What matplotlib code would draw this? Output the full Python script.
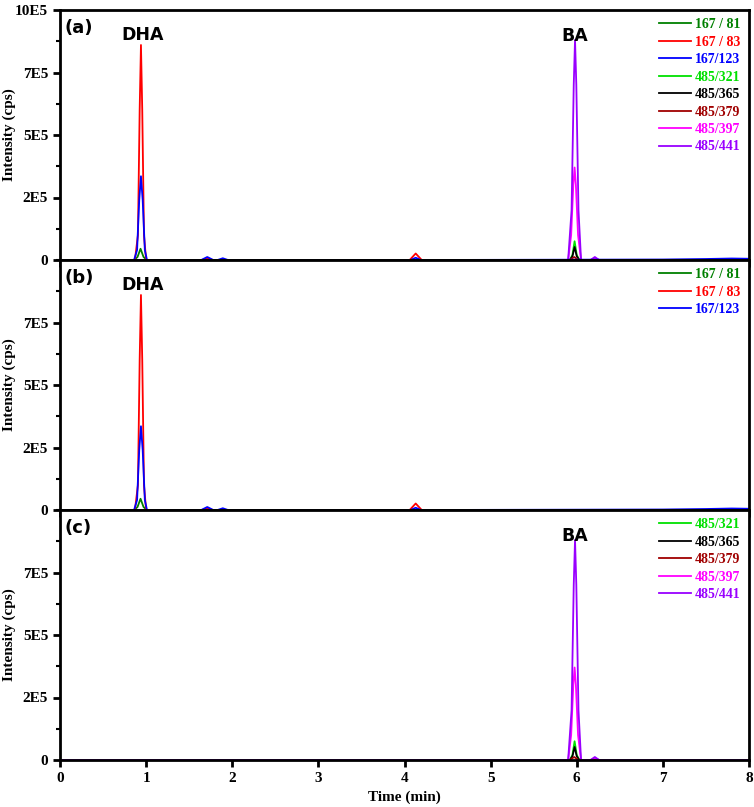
import numpy as np
import matplotlib.pyplot as plt
from matplotlib.ticker import FixedLocator, MultipleLocator

plt.rcParams['font.family'] = ['Liberation Serif', 'DejaVu Serif']
plt.rcParams['font.weight'] = 'bold'

# Retention time (min) / intensity (cps) key points
t_167_81 = [0, 0.86, 0.90, 0.935, 0.97, 1.01, 8]
i_167_81 = [0, 0, 1.2e4, 4.5e4, 1.2e4, 0, 0]

t_167_83 = [0, 0.87, 0.905, 0.925, 0.94, 0.955, 0.975, 1.00, 1.65, 1.71, 1.77, 4.06, 4.13, 4.20, 8]
i_167_83 = [0, 0, 1.0e5, 6.0e5, 8.6e5, 6.0e5, 1.0e5, 0, 0, 8e3, 0, 0, 2.6e4, 0, 0]

t_167_123 = [0, 0.86, 0.895, 0.92, 0.94, 0.96, 0.985, 1.01, 1.64, 1.71, 1.78, 1.83, 1.89, 1.95,
             4.07, 4.13, 4.19, 7.0, 7.5, 7.8, 8]
i_167_123 = [0, 0, 4e4, 2.4e5, 3.35e5, 2.4e5, 4e4, 0, 0, 1.2e4, 0, 0, 7e3, 0,
             0, 9e3, 0, 2e3, 4e3, 6e3, 5e3]

t_485_321 = [0, 5.92, 5.95, 5.975, 6.0, 6.03, 8]
i_485_321 = [0, 0, 2e4, 7.5e4, 2e4, 0, 0]

t_485_365 = [0, 5.92, 5.95, 5.975, 6.0, 6.03, 8]
i_485_365 = [0, 0, 1.5e4, 5.2e4, 1.5e4, 0, 0]

t_485_379 = [0, 5.92, 5.97, 6.02, 8]
i_485_379 = [0, 0, 1.2e4, 0, 0]

t_485_397 = [0, 5.90, 5.935, 5.96, 5.975, 5.99, 6.015, 6.05, 6.16, 6.21, 6.26, 8]
i_485_397 = [0, 0, 1e5, 3e5, 3.7e5, 3e5, 1e5, 0, 0, 8e3, 0, 0]

t_485_441 = [0, 5.90, 5.94, 5.965, 5.98, 5.995, 6.02, 6.05, 6.16, 6.21, 6.26, 8]
i_485_441 = [0, 0, 2e5, 7e5, 8.8e5, 7e5, 2e5, 0, 0, 1.2e4, 0, 0]

series = {
    '167 / 81': (t_167_81, i_167_81, '#008000'),
    '167 / 83': (t_167_83, i_167_83, '#FF0000'),
    '167/123': (t_167_123, i_167_123, '#0000FF'),
    '485/321': (t_485_321, i_485_321, '#00E000'),
    '485/365': (t_485_365, i_485_365, '#000000'),
    '485/379': (t_485_379, i_485_379, '#A00000'),
    '485/397': (t_485_397, i_485_397, '#FF00FF'),
    '485/441': (t_485_441, i_485_441, '#9900FF'),
}

dha_keys = ['167 / 81', '167 / 83', '167/123']
ba_keys = ['485/321', '485/365', '485/379', '485/397', '485/441']

y_ticks = [0, 2.5e5, 5e5, 7.5e5, 1e6]
y_labels = ['0', '2E5', '5E5', '7E5', '10E5']
x_ticks = [0, 1, 2, 3, 4, 5, 6, 7, 8]

fig = plt.figure(figsize=(7.54, 8.07), dpi=100)

left, width = 60 / 754, 689 / 754
h = 250 / 807
bottom0 = 47 / 807

panels = [
    ('(a)', ba_keys + dha_keys, dha_keys + ba_keys, True, True, True),
    ('(b)', dha_keys, dha_keys, False, True, False),
    ('(c)', ba_keys, ba_keys, False, False, True),
]

for n, (tag, draw_order, legend_order, top_label, show_dha, show_ba) in enumerate(panels):
    ax = fig.add_axes([left, bottom0 + (2 - n) * h, width, h])
    handles = {}
    for key in draw_order:
        t, y, c = series[key]
        line, = ax.plot(t, y, color=c, lw=1.3, label=key)
        handles[key] = line
    ax.set_xlim(0, 8)
    ax.set_ylim(0, 1e6)
    ax.yaxis.set_major_locator(FixedLocator(y_ticks if top_label else y_ticks[:-1]))
    ax.set_yticklabels(y_labels if top_label else y_labels[:-1])
    ax.yaxis.set_minor_locator(MultipleLocator(1.25e5))
    ax.xaxis.set_major_locator(FixedLocator(x_ticks))
    ax.tick_params(axis='both', which='major', direction='out', length=5, width=2,
                   labelsize=11)
    ax.tick_params(axis='y', which='minor', direction='out', length=3, width=1.5)
    if n < 2:
        ax.set_xticklabels([])
    else:
        ax.set_xlabel('Time (min)', fontsize=11, fontweight='bold', labelpad=4)
    for s in ax.spines.values():
        s.set_linewidth(2)
    ax.set_ylabel('Intensity (cps)', fontsize=11, fontweight='bold')
    ax.yaxis.set_label_coords(-0.064, 0.5)

    ax.text(0.006, 0.965, tag, transform=ax.transAxes, ha='left', va='top',
            fontsize=13, fontweight='bold', family='DejaVu Sans')
    if show_dha:
        ax.text(0.96, 0.90, 'DHA', transform=ax.get_xaxis_transform(),
                ha='center', va='center', fontsize=12.5, fontweight='bold', family='DejaVu Sans')
    if show_ba:
        ax.text(5.98, 0.895, 'BA', transform=ax.get_xaxis_transform(),
                ha='center', va='center', fontsize=12.5, fontweight='bold', family='DejaVu Sans')

    ax.legend([handles[k] for k in legend_order], legend_order,
              loc='upper right', frameon=False,
              handlelength=2.3, labelspacing=0.32, handletextpad=0.3,
              borderaxespad=0.2, labelcolor='linecolor',
              prop={'weight': 'bold', 'size': 10})

fig.savefig('out.png', dpi=100)
